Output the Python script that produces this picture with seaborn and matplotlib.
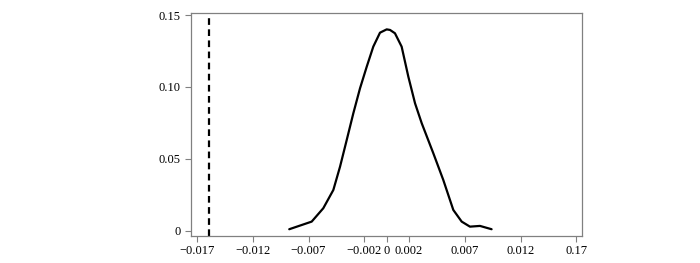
import seaborn as sns
import matplotlib.pyplot as plt

# density curve
returns = [-0.00873, -0.00672, -0.00568, -0.00478, -0.00418, -0.00358,
           -0.00299, -0.00239, -0.00179, -0.0012, -0.0006, 0.0, 0.0003,
           0.00074, 0.00134, 0.00194, 0.00254, 0.00314, 0.00418, 0.00507,
           0.00597, 0.00672, 0.00746, 0.00836, 0.0094]
density = [0.001, 0.0063, 0.0156, 0.0283, 0.0445, 0.0631,
           0.0816, 0.099, 0.114, 0.128, 0.1377, 0.140, 0.1396,
           0.1373, 0.128, 0.1071, 0.0886, 0.0747, 0.0538, 0.0353,
           0.0144, 0.0063, 0.0028, 0.0033, 0.001]
threshold = -0.0159

x_ticks = [-0.017, -0.012, -0.007, -0.002, 0, 0.002, 0.007, 0.012, 0.017]
x_labels = ['\u22120.017', '\u22120.012', '\u22120.007', '\u22120.002', '0',
            '0.002', '0.007', '0.012', '0.17']
y_ticks = [0, 0.05, 0.10, 0.15]
y_labels = ['0', '0.05', '0.10', '0.15']

sns.set_style("ticks")
plt.rcParams['font.family'] = ['Liberation Serif', 'DejaVu Serif']

fig = plt.figure(figsize=(7, 2.63), dpi=100)
ax = fig.add_axes([190.7 / 700, 1 - 235.7 / 263, (582 - 190.7) / 700, (235.7 - 12.7) / 263])

sns.lineplot(x=returns, y=density, ax=ax, color='black', linewidth=1.6)
ax.axvline(threshold, color='black', linestyle=(0, (3, 2)), linewidth=1.6)

ax.set_xlim(-0.01756, 0.0175)
ax.set_ylim(-0.0035, 0.1516)
ax.set_xticks(x_ticks)
ax.set_xticklabels(x_labels)
ax.set_yticks(y_ticks)
ax.set_yticklabels(y_labels)

for side in ['left', 'right', 'top', 'bottom']:
    ax.spines[side].set_visible(True)
    ax.spines[side].set_color('#808080')
    ax.spines[side].set_linewidth(0.9)
ax.tick_params(axis='both', direction='out', length=4, width=0.8,
               color='#808080', labelsize=9, labelcolor='black', pad=3)

plt.savefig('out.png', dpi=100)
